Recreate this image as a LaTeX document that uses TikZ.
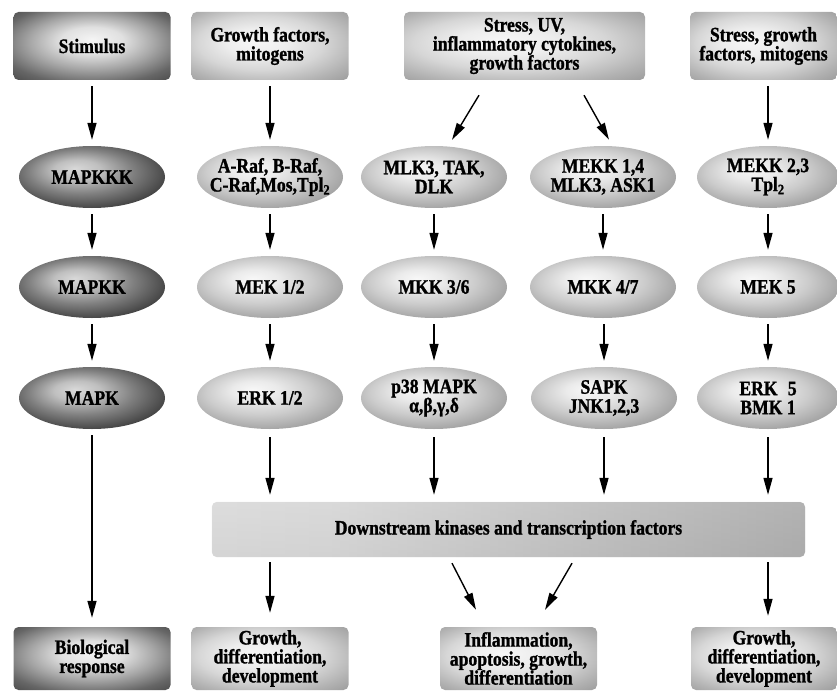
\documentclass[tikz,border=0pt]{standalone}
\usepackage{fontspec}
\setmainfont{Liberation Serif}[FakeStretch=0.86, BoldFeatures={FakeBold=1.2}]
\usetikzlibrary{arrows.meta,calc,shapes.geometric}

\pgfdeclareradialshading{lightell}{\pgfpoint{-6bp}{7bp}}{color(0bp)=(black!3); color(8bp)=(black!8); color(18bp)=(black!20); color(28bp)=(black!35); color(36bp)=(black!45); color(50bp)=(black!55)}
\pgfdeclareradialshading{darkell}{\pgfpoint{-6bp}{7bp}}{color(0bp)=(black!15); color(8bp)=(black!25); color(18bp)=(black!50); color(28bp)=(black!72); color(36bp)=(black!82); color(50bp)=(black!88)}
\pgfdeclareradialshading{lightbox}{\pgfpoint{-5bp}{4bp}}{color(0bp)=(black!3); color(10bp)=(black!7); color(20bp)=(black!16); color(30bp)=(black!30); color(38bp)=(black!40); color(50bp)=(black!45)}
\pgfdeclareradialshading{darkbox}{\pgfpoint{0bp}{5bp}}{color(0bp)=(black!4); color(10bp)=(black!12); color(20bp)=(black!35); color(30bp)=(black!60); color(38bp)=(black!72); color(50bp)=(black!80)}
\pgfdeclarehorizontalshading{downsh}{100bp}{color(0bp)=(black!40); color(4bp)=(black!15); color(9bp)=(black!3); color(35bp)=(black!8); color(60bp)=(black!22); color(85bp)=(black!35); color(100bp)=(black!40)}

\tikzset{
 txt/.style={font=\fontsize{20.5}{19}\selectfont\bfseries, align=center, text=black},
 ell/.style={txt, ellipse, minimum width=146pt, minimum height=62pt, inner xsep=-16pt, inner ysep=-3pt, shade, shading=lightell},
 dell/.style={ell, shading=darkell},
 box/.style={txt, rectangle, rounded corners=5pt, minimum width=157pt, minimum height=68pt, inner sep=0pt, shade, shading=lightbox},
 dbox/.style={box, shading=darkbox},
 arr/.style={line width=1.4pt, -{Triangle[length=17pt,width=9pt]}, shorten <=6pt, shorten >=6pt},
 arrd/.style={line width=1.4pt, -{Triangle[length=17pt,width=9pt]}},
}

\begin{document}
\begin{tikzpicture}[x=1pt,y=-1pt]
\useasboundingbox (0,0) rectangle (837,690);

% top boxes
\node[dbox] (stim) at (92,46) {Stimulus};
\node[box] (gf) at (270,46) {Growth factors,\\mitogens};
\node[box, minimum width=241pt] (suv) at (524.5,46) {Stress, UV,\\inflammatory cytokines,\\growth factors};
\node[box, minimum width=147pt] (sgf) at (763.5,46) {Stress, growth\\factors, mitogens};

% row 1
\node[dell] (mkkk) at (92,177) {MAPKKK};
\node[ell] (raf) at (270,177) {A-Raf, B-Raf,\\C-Raf,Mos,Tpl\textsubscript{2}};
\node[ell] (mlk) at (434,177) {MLK3, TAK,\\DLK};
\node[ell] (mekk14) at (603,177) {MEKK 1,4\\MLK3, ASK1};
\node[ell, minimum width=142pt] (mekk23) at (768,177) {MEKK 2,3\\Tpl\textsubscript{2}};

% row 2
\node[dell] (mkk) at (92,287) {MAPKK};
\node[ell] (mek12) at (270,287) {MEK 1/2};
\node[ell] (mkk36) at (434,287) {MKK 3/6};
\node[ell] (mkk47) at (603,287) {MKK 4/7};
\node[ell, minimum width=142pt] (mek5) at (768,287) {MEK 5};

% row 3
\node[dell] (mapk) at (92,398) {MAPK};
\node[ell] (erk12) at (270,398) {ERK 1/2};
\node[ell] (p38) at (434,398) {p38 MAPK\\α,β,γ,δ};
\node[ell] (sapk) at (604,398) {SAPK\\JNK1,2,3};
\node[ell, minimum width=142pt] (erk5) at (768,398) {ERK\enspace 5\\BMK 1};

% downstream
\node[txt, rectangle, rounded corners=5pt, minimum width=593pt, minimum height=55pt, inner sep=0pt, shade, shading=downsh] (down) at (508.5,529.5) {};
\shade[rounded corners=5pt, fill opacity=0.3, top color=black!30, middle color=white, bottom color=black!40] (down.south west) rectangle (down.north east);
\node[txt] (downtxt) at (down.center) {Downstream kinases and transcription factors};

% bottom boxes
\node[dbox, minimum height=63pt] (bio) at (92,658.5) {Biological\\response};
\node[box, minimum height=63pt] (g1) at (270,658.5) {Growth,\\differentiation,\\development};
\node[box, minimum height=63pt] (infl) at (518.5,658.5) {Inflammation,\\apoptosis, growth,\\differentiation};
\node[box, minimum height=63pt, minimum width=146pt] (g2) at (764,658.5) {Growth,\\differentiation,\\development};

% arrows column 1
\draw[arr] (stim) -- (mkkk);
\draw[arr] (mkkk) -- (mkk);
\draw[arr] (mkk) -- (mapk);
\draw[arr, shorten >=9pt] (mapk) -- (bio);

% column 2
\draw[arr] (gf) -- (raf);
\draw[arr] (raf) -- (mek12);
\draw[arr] (mek12) -- (erk12);
\draw[arr, shorten <=8pt, shorten >=7pt] (erk12) -- (erk12 |- down.north);

% column 3/4
\draw[arrd] ($(suv.south)+(-45.5,15)$) -- ($(mlk.north)+(18,-6)$);
\draw[arrd] ($(suv.south)+(59.5,15)$) -- ($(mekk14.north)+(6,-6)$);
\draw[arr] (mlk) -- (mkk36);
\draw[arr] (mkk36) -- (p38);
\draw[arr, shorten <=8pt, shorten >=7pt] (p38) -- (p38 |- down.north);
\draw[arr] (mekk14) -- (mkk47);
\draw[arr] (mkk47.south -| sapk) -- (sapk);
\draw[arr, shorten <=8pt, shorten >=7pt] (sapk) -- (sapk |- down.north);

% column 5
\draw[arr] (sgf.south -| mekk23) -- (mekk23);
\draw[arr] (mekk23) -- (mek5);
\draw[arr] (mek5) -- (erk5);
\draw[arr, shorten <=8pt, shorten >=7pt] (erk5) -- (erk5 |- down.north);

% from downstream
\draw[arr, shorten <=5pt, shorten >=14pt] (down.south -| g1) -- (g1);
\draw[arrd] ($(down.south)+(-56.5,6)$) -- ($(infl.north)+(-42.5,-17)$);
\draw[arrd] ($(down.south)+(63.5,6)$) -- ($(infl.north)+(26.5,-17)$);
\draw[arr, shorten <=5pt, shorten >=11pt] (down.south -| erk5) -- (g2.north -| erk5);
\end{tikzpicture}
\end{document}
